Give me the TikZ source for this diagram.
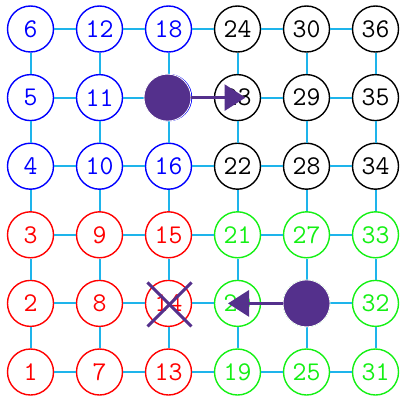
\documentclass[tikz,border=0pt]{standalone}
\usetikzlibrary{arrows.meta}
\definecolor{linkc}{RGB}{30,180,235}
\definecolor{purp}{RGB}{84,48,140}
\definecolor{gr}{RGB}{20,240,20}
\tikzset{
  cell/.style={circle, draw, line width=1.4pt, minimum size=46pt, inner sep=0pt, fill=white,
    font=\ttfamily\fontsize{27}{27}\selectfont},
  link/.style={draw=linkc, line width=2pt},
  mover/.style={circle, draw=white, line width=0.8pt, fill=purp, minimum size=47pt, inner sep=0pt},
  arr/.style={-{Triangle[length=21pt,width=26pt]}, line width=3pt, draw=purp, fill=purp},
  cross/.style={draw=purp, line width=3pt}
}
\begin{document}
\begin{tikzpicture}[x=1pt,y=-1pt]
\useasboundingbox (0,0) rectangle (403,398);
\foreach \i in {0,...,5} {
  \foreach \j in {0,...,5} {
    \pgfmathtruncatemacro\n{6*\i+\j+1}
    \ifnum\i<3 \ifnum\j<3 \def\cc{red}\else\def\cc{blue}\fi
    \else \ifnum\j<3 \def\cc{gr}\else\def\cc{black}\fi\fi
    \node[cell, draw=\cc, text=\cc] (n\n) at ({30.5+69*\i},{372-68.6*\j})
      {\ifnum\n=17 \else\ifnum\n=26 \else\n\fi\fi};
  }
}
\foreach \i in {0,...,4} {
  \foreach \j in {0,...,5} {
    \pgfmathtruncatemacro\a{6*\i+\j+1}
    \pgfmathtruncatemacro\b{6*\i+\j+7}
    \draw[link] (n\a) -- (n\b);
  }
}
\foreach \i in {0,...,5} {
  \foreach \j in {0,...,4} {
    \pgfmathtruncatemacro\a{6*\i+\j+1}
    \pgfmathtruncatemacro\b{6*\i+\j+2}
    \draw[link] (n\a) -- (n\b);
  }
}
\node[mover] (m17) at ([xshift=-1pt]n17.center) {};
\node[mover] (m26) at ([xshift=0pt]n26.center) {};
\coordinate (t23) at ([xshift=8pt]n23.center);
\coordinate (t20) at ([xshift=-9.5pt]n20.center);
\draw[arr] (m17.east) -- (t23);
\draw[arr] (m26.west) -- (t20);
\coordinate (xa) at ([shift={(-21pt,21pt)}]n14.center);
\coordinate (xb) at ([shift={(23pt,-23pt)}]n14.center);
\coordinate (xc) at ([shift={(-21pt,-23pt)}]n14.center);
\coordinate (xd) at ([shift={(23pt,21pt)}]n14.center);
\draw[cross] (xa) -- (xb);
\draw[cross] (xc) -- (xd);
\end{tikzpicture}
\end{document}
